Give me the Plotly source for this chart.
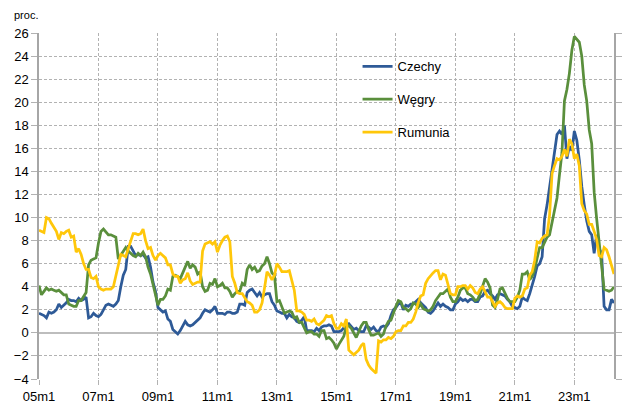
import plotly.graph_objects as go

# ---- data -------------------------------------------------------------
months = [f"{y % 100:02d}m{m}" for y in range(2005, 2025) for m in range(1, 13)][:233]

czechy = [
    1.7, 1.6, 1.5, 1.3, 1.8, 1.7, 1.8, 2.0, 2.5, 2.2, 2.4, 2.6,
    2.9, 2.8, 2.8, 2.7, 3.0, 2.8, 2.9, 3.1, 1.3, 1.4, 1.7, 1.5,
    1.4, 1.6, 2.0, 2.4, 2.5, 2.4, 2.3, 2.5, 2.8, 4.0, 5.0, 5.5,
    7.5, 7.5, 7.1, 6.7, 6.8, 6.7, 6.8, 6.5, 6.6, 5.7, 4.4, 3.6,
    2.2, 2.0, 1.8, 1.9, 1.2, 1.0, 0.3, 0.1, -0.1, 0.2, 0.6, 1.0,
    0.7, 0.6, 0.7, 0.9, 1.1, 1.3, 1.7, 2.0, 1.9, 1.8, 2.0, 2.3,
    1.7, 1.7, 1.7, 1.6, 1.8, 1.8, 1.7, 1.7, 1.8, 2.5, 2.5, 2.4,
    3.5, 3.7, 3.8, 3.5, 3.2, 3.5, 3.1, 3.3, 3.4, 3.4, 2.7, 2.4,
    1.9, 1.8, 1.7, 1.7, 1.3, 1.6, 1.4, 1.3, 1.0, 0.9, 1.1, 1.4,
    0.2, 0.2, 0.2, 0.1, 0.4, 0.2, 0.5, 0.6, 0.6, 0.7, 0.6, 0.1,
    0.1, 0.1, 0.2, 0.5, 0.7, 0.8, 0.5, 0.3, 0.4, 0.2, 0.1, 0.1,
    0.6, 0.5, 0.3, 0.5, 0.2, 0.1, 0.5, 0.6, 0.5, 0.8, 1.5, 2.0,
    2.2, 2.5, 2.6, 2.0, 2.4, 2.3, 2.5, 2.5, 2.7, 2.9, 2.6, 2.4,
    2.2, 1.8, 1.7, 1.9, 2.2, 2.6, 2.3, 2.5, 2.3, 2.2, 2.0, 2.0,
    2.5, 2.7, 3.0, 2.8, 2.9, 2.7, 2.9, 2.9, 2.7, 2.7, 3.1, 3.2,
    3.6, 3.7, 3.4, 3.2, 2.9, 3.3, 3.4, 3.3, 3.2, 2.9, 2.7, 2.3,
    2.2, 2.1, 2.3, 3.1, 2.9, 2.8, 3.4, 4.1, 4.9, 5.8, 6.0, 6.6,
    9.9, 11.1, 12.7, 14.2, 16.0, 17.2, 17.5, 17.2, 18.0, 15.1, 16.2, 15.8,
    17.5, 16.7, 15.0, 12.7, 11.1, 9.7, 8.8, 8.5, 6.9, 8.5, 7.3, 6.9,
    2.3, 2.0, 2.0, 2.9, 2.6,
]

wegry = [
    4.1, 3.3, 3.6, 3.9, 3.7, 3.8, 3.7, 3.6, 3.7, 3.5, 3.3, 3.3,
    2.5, 2.4, 2.3, 2.3, 2.8, 2.8, 3.1, 3.5, 5.9, 6.3, 6.4, 6.5,
    7.8, 8.8, 9.0, 8.7, 8.5, 8.5, 8.4, 8.3, 6.4, 6.7, 7.1, 7.4,
    7.1, 6.9, 6.7, 6.6, 6.9, 6.7, 7.0, 6.6, 5.7, 5.1, 4.2, 3.5,
    2.4, 2.9, 2.9, 3.2, 3.8, 3.7, 4.9, 5.0, 4.9, 4.7, 5.2, 5.6,
    6.2, 5.6, 5.9, 5.7, 5.1, 5.3, 4.0, 3.6, 3.7, 4.3, 4.2, 4.7,
    4.0, 4.1, 4.3, 3.9, 3.9, 3.6, 3.1, 3.4, 3.6, 3.6, 4.3, 4.1,
    5.5, 5.9, 5.5, 5.7, 5.3, 5.4, 5.8, 6.0, 6.6, 6.0, 5.2, 5.0,
    2.7, 2.8, 2.2, 1.7, 1.8, 1.9, 1.8, 1.3, 1.4, 0.9, 0.9, 0.4,
    0.0, 0.1, 0.1, -0.1, -0.1, -0.3, 0.2, 0.2, -0.5, -0.4, -0.6, -0.9,
    -1.4, -1.0, -0.6, -0.3, 0.6, 0.6, 0.4, 0.0, -0.4, 0.1, 0.6, 0.9,
    0.9, 0.3, -0.2, -0.2, -0.1, 0.0, -0.3, -0.1, 0.6, 1.0, 1.1, 1.8,
    2.3, 2.8, 2.7, 2.2, 2.1, 1.9, 2.1, 2.6, 2.5, 2.2, 2.5, 2.1,
    2.0, 1.9, 2.0, 2.3, 2.8, 3.1, 3.4, 3.4, 3.6, 3.8, 3.1, 2.7,
    2.7, 3.1, 3.7, 3.9, 3.9, 3.4, 3.3, 3.1, 2.8, 2.9, 3.4, 4.0,
    4.7, 4.4, 3.9, 2.4, 2.2, 2.9, 3.8, 3.9, 3.4, 3.0, 2.7, 2.7,
    2.7, 3.1, 3.7, 5.1, 5.1, 5.3, 4.6, 4.9, 5.5, 6.5, 7.4, 7.4,
    7.9, 8.3, 8.5, 9.5, 10.7, 11.7, 13.7, 15.6, 20.1, 21.1, 22.5, 24.5,
    25.7, 25.4, 25.2, 24.0, 21.5, 20.1, 17.6, 16.4, 12.2, 9.9, 7.9, 5.5,
    3.8, 3.7, 3.6, 3.7, 4.0,
]

rumunia = [
    8.9, 8.8, 8.7, 10.0, 9.9, 9.5, 9.1, 8.8, 8.1, 8.7, 8.6, 8.8,
    8.9, 8.3, 8.4, 7.0, 7.3, 6.8, 6.0, 5.5, 5.5, 4.8, 4.7, 4.9,
    4.0, 3.8, 3.7, 3.8, 3.8, 3.8, 4.0, 5.0, 6.0, 6.8, 6.7, 6.6,
    7.3, 8.0, 8.6, 8.6, 8.5, 8.6, 9.0, 8.0, 7.3, 7.4, 6.7, 6.3,
    6.7, 6.9, 6.7, 6.5, 5.9, 5.9, 5.1, 4.9, 4.9, 4.3, 4.6, 4.7,
    5.2, 4.5, 4.2, 4.3, 4.4, 4.4, 7.1, 7.7, 7.8, 7.9, 7.7, 7.9,
    7.0, 7.6, 8.0, 8.3, 8.4, 7.9, 4.9, 4.3, 3.5, 3.4, 3.4, 3.1,
    2.7, 2.6, 2.4, 1.8, 1.8, 2.0, 2.6, 3.9, 5.3, 5.0, 4.6, 5.0,
    6.0, 5.7, 5.3, 5.3, 5.3, 5.4, 4.4, 3.7, 1.9, 1.9, 1.8, 1.6,
    1.1, 1.1, 1.0, 1.2, 0.8, 0.7, 0.9, 1.1, 1.5, 1.4, 1.5, 0.8,
    0.4, 0.4, 0.8, 0.6, 1.2, -1.5, -1.7, -1.9, -1.7, -1.5, -1.1, -0.9,
    -2.3, -2.8, -3.1, -3.3, -3.5, -0.7, -0.8, -0.6, -0.6, -0.4, -0.5, -0.3,
    0.1, 0.2, 0.2, 0.6, 0.6, 0.9, 0.9, 1.2, 1.8, 2.6, 3.2, 3.3,
    4.3, 4.7, 5.0, 5.2, 5.4, 5.4, 4.6, 5.1, 5.0, 4.3, 3.4, 3.3,
    3.3, 4.0, 4.0, 4.1, 4.1, 3.8, 4.1, 3.9, 3.5, 3.4, 3.8, 4.0,
    3.6, 3.1, 3.1, 2.7, 2.3, 2.6, 2.7, 2.5, 2.2, 2.1, 2.1, 2.1,
    3.0, 3.2, 3.1, 3.2, 3.8, 3.9, 5.0, 5.3, 6.3, 7.9, 7.8, 8.2,
    8.4, 8.5, 10.2, 13.8, 14.5, 15.1, 15.0, 15.3, 15.9, 15.3, 16.8, 16.4,
    15.1, 15.5, 14.5, 11.2, 10.6, 10.3, 9.4, 9.4, 8.8, 8.1, 6.7, 6.6,
    7.4, 7.2, 6.6, 5.9, 5.1,
]

x_tick_labels = ["05m1", "07m1", "09m1", "11m1", "13m1", "15m1",
                 "17m1", "19m1", "21m1", "23m1"]
y_tick_values = [-4, -2, 0, 2, 4, 6, 8, 10, 12, 14, 16, 18, 20, 22, 24, 26]

series_names = ["Czechy", "Węgry", "Rumunia"]
series_values = [czechy, wegry, rumunia]
series_colors = ["#2E5A97", "#5A8F3C", "#FFC70A"]

assert all(len(v) == len(months) for v in series_values)

# ---- figure -----------------------------------------------------------
GRID = "#B2B2B2"
FONT = "Liberation Sans, Arial, sans-serif"

fig = go.Figure()
for i, (name, vals, col) in enumerate(zip(series_names, series_values, series_colors)):
    fig.add_trace(go.Scatter(
        x=months, y=vals, mode="lines", name=name,
        line=dict(color=col, width=2.75),
        legendgroup=f"g{i}",
    ))

fig.update_layout(
    width=627, height=403,
    margin=dict(l=39, r=13, t=33, b=24, pad=0, autoexpand=False),
    paper_bgcolor="white", plot_bgcolor="white",
    font=dict(family=FONT, size=13, color="black"),
    hovermode=False,
    showlegend=True,
    legend=dict(
        x=0.554, y=0.947, xanchor="left", yanchor="top",
        bgcolor="rgba(0,0,0,0)", font=dict(family=FONT, size=13, color="black"),
        tracegroupgap=13, itemwidth=30,
    ),
    xaxis=dict(
        type="category", range=[0, 232], automargin=False,
        tickmode="array", tickvals=x_tick_labels, ticktext=x_tick_labels,
        showgrid=True, gridcolor=GRID, griddash="3px,2px", gridwidth=1,
        ticks="outside", ticklen=5, tickcolor=GRID, tickwidth=1,
        showline=False, zeroline=False,
        tickfont=dict(family=FONT, size=13, color="black"),
    ),
    yaxis=dict(
        range=[-4, 26], tickmode="array", tickvals=y_tick_values, automargin=False,
        showgrid=True, gridcolor=GRID, griddash="3px,2px", gridwidth=1,
        zeroline=True, zerolinecolor="#BDBDBD", zerolinewidth=2,
        showline=True, linecolor="#A6A6A6", linewidth=1.5, mirror="ticks",
        ticks="outside", ticklen=6, tickcolor=GRID, tickwidth=1,
        tickfont=dict(family=FONT, size=13, color="black"),
    ),
    annotations=[
        dict(text="proc.", xref="paper", yref="paper",
             x=(12 - 39) / 575, y=1, yshift=18,
             xanchor="left", yanchor="middle", showarrow=False,
             font=dict(family=FONT, size=11, color="black")),
        dict(text="w Czechach, Rumunii i na Węgrzech (%)", xref="paper", yref="paper",
             x=(16 - 39) / 575, y=1, yshift=45,
             xanchor="left", yanchor="middle", showarrow=False,
             font=dict(family=FONT, size=16, color="black")),
    ],
)

fig.write_html(
    "out.html",
    config={"displayModeBar": False},
    post_script="document.body.style.margin='0px';"
                "document.documentElement.style.overflow='hidden';",
)
